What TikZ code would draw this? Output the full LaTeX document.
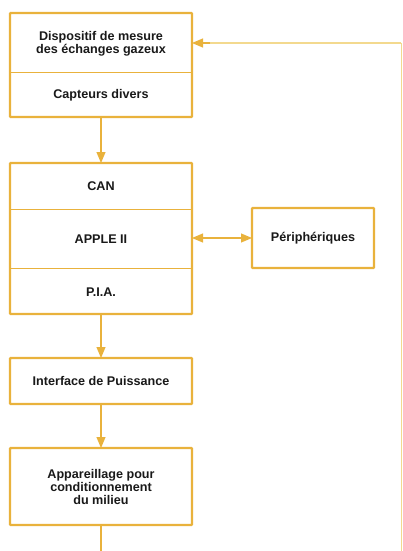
\documentclass[tikz,border=0pt]{standalone}
\usepackage{fontspec}
\setmainfont{Liberation Sans}
\usetikzlibrary{arrows.meta}
\definecolor{gold}{HTML}{E9B23C}
\definecolor{palegold}{HTML}{F3D98E}
\begin{document}
\begin{tikzpicture}[x=1pt,y=-1pt,
  box/.style={draw=gold,line width=2.4pt,fill=white,rounded corners=0.8pt,outer sep=0pt},
  divider/.style={draw=gold,line width=0.8pt},
  conn/.style={draw=gold,line width=1.1pt},
  tip/.style={-{Triangle[length=11pt,width=9pt]}},
  lbl/.style={font=\bfseries\fontsize{12.6}{13}\selectfont,align=center,text=black!90}]
\useasboundingbox (0,0) rectangle (403,551);
% boxes
\node[box,minimum width=182pt,minimum height=104pt,anchor=north west] (b1) at (10,13) {};
\node[box,minimum width=182pt,minimum height=151pt,anchor=north west] (b2) at (10,163) {};
\node[box,minimum width=122pt,minimum height=60pt,anchor=north west] (per) at (252,208) {};
\node[box,minimum width=182pt,minimum height=46pt,anchor=north west] (b3) at (10,358) {};
\node[box,minimum width=182pt,minimum height=77pt,anchor=north west] (b4) at (10,448) {};
% dividers
\draw[divider] (10,72) -- (192,72);
\draw[divider] (10,209) -- (192,209);
\draw[divider] (10,268) -- (192,268);
% labels
\node[lbl] (t1) at (101,44) {Dispositif de mesure\\des échanges gazeux};
\node[lbl] (t2) at (101,95.5) {Capteurs divers};
\node[lbl] (t3) at (101,186.5) {CAN};
\node[lbl] (t4) at (101,239.5) {APPLE II};
\node[lbl] (t5) at (101,292.5) {P.I.A.};
\node[lbl] (t6) at (313,238.5) {Périphériques};
\node[lbl] (t7) at (101,380.5) {Interface de Puissance};
\node[lbl] (t8) at (101,486.5) {Appareillage pour\\conditionnement\\du milieu};
% connectors
\coordinate (bot) at (101,551);
\coordinate (corner) at (401,43);
\coordinate (cornerb) at (401,551);
\draw[conn,tip] (b1.south) -- (b1.south |- b2.north);
\draw[conn,tip] (b2.south) -- (b2.south |- b3.north);
\draw[conn,tip] (b3.south) -- (b3.south |- b4.north);
\draw[conn] (b4.south) -- (b4.south |- bot);
\draw[conn,{Triangle[length=11pt,width=9pt]}-{Triangle[length=11pt,width=9pt]}] (b2.east |- per.west) -- (per.west);
\draw[draw=palegold,line width=1pt] (cornerb) -- (corner);
\draw[draw=palegold,line width=1.1pt] (corner) -- (210,43);
\draw[conn,tip] (210,43) -- (b1.east |- corner);
\end{tikzpicture}
\end{document}
